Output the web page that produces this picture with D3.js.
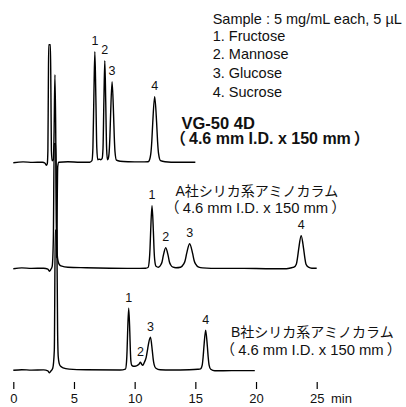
<!DOCTYPE html>
<html>
<head>
<meta charset="utf-8">
<script src="https://cdn.jsdelivr.net/npm/d3@7"></script>
<style>
body { margin: 0; background: #fff; }
svg { display: block; }
text { font-family: "Liberation Sans", "Noto Sans CJK JP", sans-serif; fill: #111; }
</style>
</head>
<body>
<script>
var w = 406;
var h = 407;

// retention time (min) vs detector signal
var traceVG = [
  [0, 0], [0.8, 0.8], [1.6, 0.3], [2.4, 0.5], [2.62, -0.5], [2.72, -2.5], [2.8, -1],
  [2.85, 12], [2.89, 80], [2.92, 118], [3.06, 118], [3.1, 70], [3.14, 12], [3.2, 2],
  [3.3, 3], [3.36, 30], [3.43, 88], [3.49, 40], [3.54, -40], [3.58, -95], [3.62, -40], [3.66, -4], [3.75, 0.5],
  [4.5, 1], [5.5, 0.5], [6.3, 0.5],
  [6.48, 2], [6.56, 15], [6.64, 67], [6.72, 111], [6.8, 67], [6.88, 15], [6.96, 3],
  [7.1, 3.5], [7.2, 3],
  [7.315, 4], [7.39, 14], [7.465, 62], [7.54, 102], [7.615, 62], [7.69, 14], [7.76, 3],
  [7.82, 4], [7.9, 11], [7.96, 26], [8.02, 49], [8.14, 81], [8.26, 49], [8.32, 26], [8.38, 11], [8.5, 2.5],
  [8.8, 1.5], [9.5, 1], [10.5, 0.8], [11.1, 1],
  [11.17, 1.5], [11.33, 9], [11.41, 21], [11.49, 40], [11.65, 66], [11.81, 40], [11.89, 21], [11.97, 9], [12.13, 2],
  [12.5, 1], [13.5, 0.5], [15, 0.5]
];

var traceA = [
  [0, 0], [0.7, 0.8], [1.5, 0.3], [2.5, 0.5], [2.85, -0.5], [2.98, -2.5], [3.08, -1],
  [3.2, 2], [3.3, 30], [3.37, 125], [3.5, 125], [3.57, 40], [3.62, 14], [3.7, 7], [3.8, 4], [4.0, 2.5],
  [4.5, 1.5], [6, 1], [8, 0.5], [10, 0.3], [10.9, 0.5],
  [11.1, 1.2], [11.21, 9], [11.265, 20], [11.32, 38], [11.43, 63], [11.54, 38], [11.595, 20], [11.65, 9], [11.76, 2.5],
  [11.96, 1.5], [12.16, 4], [12.26, 7], [12.36, 13], [12.56, 21], [12.76, 13], [12.86, 7], [12.96, 4], [13.16, 1.5],
  [13.4, 1], [13.78, 1.5], [14.03, 4.5], [14.155, 8], [14.28, 15], [14.53, 25], [14.78, 15], [14.905, 8], [15.03, 4.5], [15.28, 1.5],
  [15.6, 0.8], [17, 0.3], [19, 0.3], [21, 0], [22.5, 0], [23, 1.2],
  [23.12, 1.5], [23.32, 4.5], [23.42, 11], [23.52, 20], [23.72, 33], [23.92, 20], [24.02, 11], [24.12, 4.5], [24.32, 1.5],
  [24.6, 0.5], [25, 0.5]
];

var traceB = [
  [0, 0], [0.7, 0.6], [1.5, 0.2], [2.5, 0.4], [2.85, -0.5], [2.96, -2.5], [3.08, -1],
  [3.25, 2], [3.38, 20], [3.46, 140], [3.58, 140], [3.65, 40], [3.7, 14], [3.78, 7], [3.9, 4], [4.1, 2.5],
  [4.6, 1.2], [6, 0.5], [8.8, 0.3],
  [9.24, 1.2], [9.33, 8.5], [9.375, 20], [9.42, 38], [9.51, 62], [9.6, 38], [9.645, 20], [9.69, 9], [9.76, 5],
  [9.9, 4], [10.15, 4.5], [10.35, 6], [10.48, 8], [10.58, 6], [10.66, 5],
  [10.8, 8], [10.95, 13], [11.08, 22], [11.15, 27], [11.3, 33], [11.45, 20], [11.53, 11], [11.6, 6], [11.75, 2], [12.1, 0.5],
  [13, 0.3], [14.5, 0.5], [15.2, 1],
  [15.43, 1.5], [15.57, 5.5], [15.64, 13], [15.71, 24], [15.85, 40], [15.99, 24], [16.06, 13], [16.13, 5.5], [16.27, 1],
  [16.6, -0.5], [18, -0.3], [19.9, -0.3]
];

var peakNames = ["1", "2", "3", "4"];
var peakTimesVG = [6.72, 7.54, 8.14, 11.65];
var peakHeightsVG = [111, 102, 81, 66];
var peakTimesA = [11.43, 12.56, 14.53, 23.72];
var peakHeightsA = [63, 21, 25, 33];
var peakTimesB = [9.51, 10.48, 11.3, 15.85];
var peakHeightsB = [62, 8, 33, 40];

var tickValues = [0, 5, 10, 15, 20, 25];
var sampleLines = ["Sample : 5 mg/mL each, 5 µL", "1. Fructose", "2. Mannose", "3. Glucose", "4. Sucrose"];
var columnSize = ["（", "4.6 mm I.D. x 150 mm", "）"];
var columnNames = ["VG-50 4D", "A社シリカ系アミノカラム", "B社シリカ系アミノカラム"];

var svg = d3.select("body").append("svg").attr("width", w).attr("height", h);

var x = d3.scaleLinear().domain([0, 25]).range([13.3, 316.7]);

var panels = [
  {data: traceVG, base: 162.7, times: peakTimesVG, heights: peakHeightsVG, name: columnNames[0], lx: 181.5, ly: 128.5, gap: 15.5, fs1: 16.5, fs2: 16, bold: true},
  {data: traceA, base: 268.7, times: peakTimesA, heights: peakHeightsA, name: columnNames[1], lx: 175.5, ly: 195.5, gap: 17.5, fs1: 14, fs2: 14.8, bold: false},
  {data: traceB, base: 370.3, times: peakTimesB, heights: peakHeightsB, name: columnNames[2], lx: 231, ly: 337, gap: 18, fs1: 14, fs2: 14.8, bold: false}
];

panels.forEach(function (p) {
  var y = d3.scaleLinear().domain([0, 100]).range([p.base, p.base - 100]); //1 unit ~ 1px
  var line = d3.line()
    .x(function (d) { return x(d[0]); })
    .y(function (d) { return y(d[1]); })
    .curve(d3.curveMonotoneX);

  svg.append("path")
    .datum(p.data)
    .attr("d", line)
    .attr("fill", "none")
    .attr("stroke", "#000")
    .attr("stroke-width", 1.4)
    .attr("stroke-linejoin", "round");

  svg.append("g").selectAll("text")
    .data(peakNames)
    .enter()
    .append("text")
    .attr("x", function (d, i) { return x(p.times[i]); })
    .attr("y", function (d, i) { return y(p.heights[i]) - 6.5; })
    .attr("text-anchor", "middle")
    .attr("font-size", "12.5px")
    .text(function (d) { return d; });

  var wt = p.bold ? "bold" : "normal";
  svg.append("text")
    .attr("x", p.lx)
    .attr("y", p.ly)
    .attr("font-size", p.fs1 + "px")
    .attr("font-weight", wt)
    .text(p.name);

  // full-width brackets: shift so the bracket ink lines up with the name above
  var t2 = svg.append("text")
    .attr("x", p.lx - 0.72 * p.fs2)
    .attr("y", p.ly + p.gap)
    .attr("font-size", p.fs2 + "px")
    .attr("font-weight", wt);
  t2.selectAll("tspan")
    .data(columnSize)
    .enter()
    .append("tspan")
    .attr("dx", function (d, i) { return i === 0 ? 0 : 3; })
    .text(function (d) { return d; });
});

// time axis, ticks only
var axis = d3.axisBottom(x).tickValues(tickValues).tickSize(7).tickPadding(5);
var gx = svg.append("g").attr("transform", "translate(0,382)").call(axis);
gx.select(".domain").remove();
gx.selectAll("line").attr("stroke", "#000").attr("stroke-width", 1.2);
gx.selectAll("text").attr("font-size", "13px").attr("fill", "#111")
  .attr("font-family", "Liberation Sans, sans-serif");
svg.append("text").attr("x", 331).attr("y", 403.3).attr("font-size", "13px").text("min");

svg.append("g").selectAll("text")
  .data(sampleLines)
  .enter()
  .append("text")
  .attr("x", 212.7)
  .attr("y", function (d, i) { return i === 0 ? 24 : 21.8 + i * 18.8; })
  .attr("font-size", "14.5px")
  .text(function (d) { return d; });
</script>
</body>
</html>
